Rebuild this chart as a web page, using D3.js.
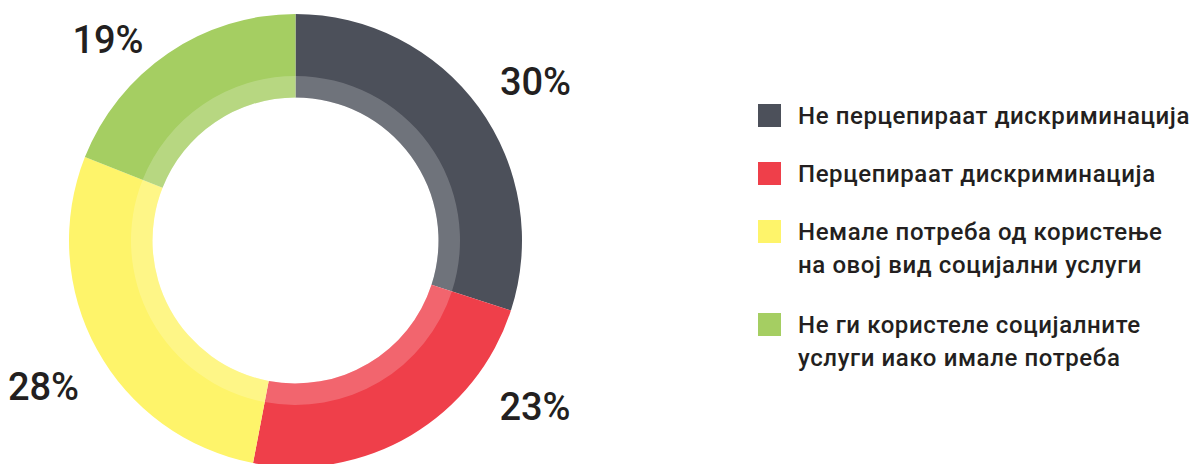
<!DOCTYPE html>
<html>
<head>
<meta charset="utf-8">
<script src="https://cdn.jsdelivr.net/npm/d3@7"></script>
<style>
  html, body { margin: 0; padding: 0; background: #fff; }
  svg { display: block; }
</style>
</head>
<body>
<svg id="chart" width="1190" height="464"></svg>
<script>
const categories = [
  "Не перцепираат дискриминација",
  "Перцепираат дискриминација",
  "Немале потреба од користење\nна овој вид социјални услуги",
  "Не ги користеле социјалните\nуслуги иако имале потреба"
];
const values = [30, 23, 28, 19];
const valueLabels = ["30%", "23%", "28%", "19%"];
const colors = ["#4c505a", "#ef3f4a", "#fef46a", "#a5ce62"];

// layout
const cx = 295.5, cy = 240.5;
const rOuter = 226.5, rBand = 164.5, rInner = 143;
const labelAnchors = [[535.5, 95], [535, 420], [43.5, 400], [108, 53]];

const svg = d3.select("#chart");
const g = svg.append("g").attr("transform", `translate(${cx},${cy})`);

const pie = d3.pie().sort(null).value(d => d)(values);
const arcOuter = d3.arc().innerRadius(rInner).outerRadius(rOuter);
const arcBand = d3.arc().innerRadius(rInner).outerRadius(rBand);

g.selectAll("path.seg").data(pie).join("path")
  .attr("class", "seg")
  .attr("d", arcOuter)
  .attr("fill", (d, i) => colors[i]);

g.selectAll("path.band").data(pie).join("path")
  .attr("class", "band")
  .attr("d", arcBand)
  .attr("fill", "#ffffff")
  .attr("fill-opacity", 0.2);

svg.selectAll("text.pct").data(valueLabels).join("text")
  .attr("class", "pct")
  .attr("x", (d, i) => labelAnchors[i][0])
  .attr("y", (d, i) => labelAnchors[i][1])
  .attr("text-anchor", "middle")
  .attr("font-family", "Roboto, sans-serif")
  .attr("font-size", 38)
  .attr("font-weight", 500)
  .attr("fill", "#231f20")
  .text(d => d);

// legend
const legendX = 758, textX = 798;
const rowTops = [104, 162, 220, 313];
const lineH = 33;
const legend = svg.append("g");
categories.forEach((c, i) => {
  legend.append("rect")
    .attr("x", legendX).attr("y", rowTops[i])
    .attr("width", 23).attr("height", 23)
    .attr("fill", colors[i]);
  const lines = c.split("\n");
  const t = legend.append("text")
    .attr("font-family", "Roboto, sans-serif")
    .attr("font-size", 24)
    .attr("font-weight", 500)
    .attr("letter-spacing", 0.6)
    .attr("fill", "#231f20");
  lines.forEach((ln, j) => {
    t.append("tspan").attr("x", textX).attr("y", rowTops[i] + 20 + j * lineH).text(ln);
  });
});
</script>
</body>
</html>
